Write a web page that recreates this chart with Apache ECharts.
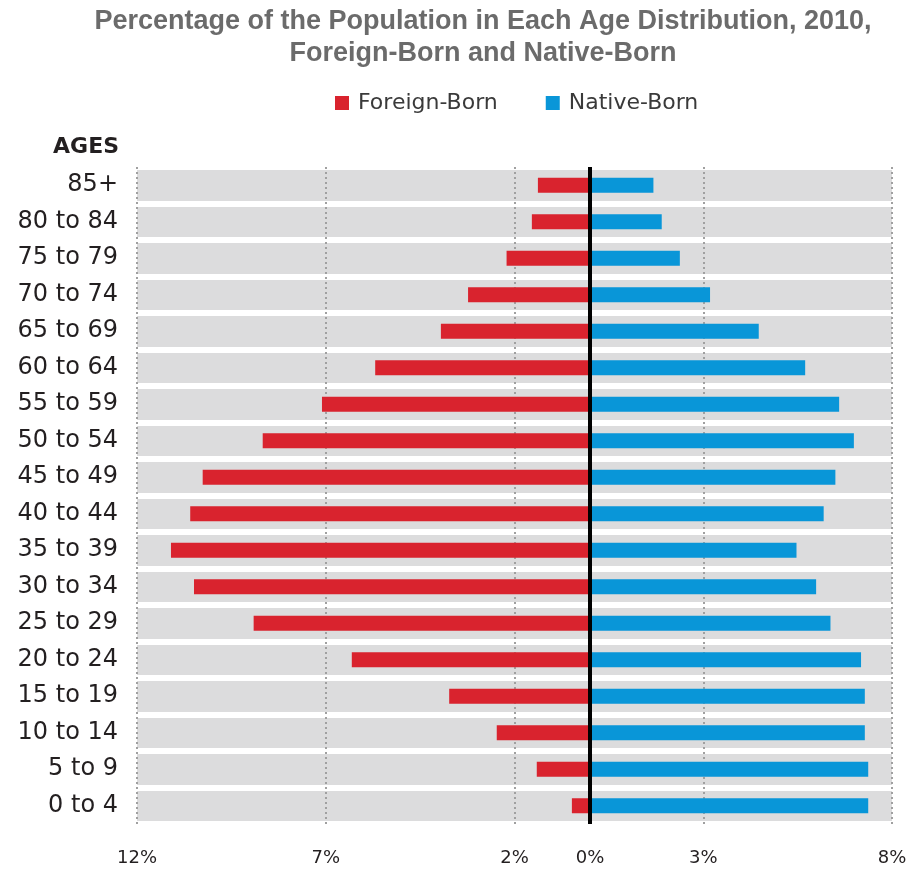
<!DOCTYPE html>
<html>
<head>
<meta charset="utf-8">
<script src="https://cdn.jsdelivr.net/npm/echarts@6/dist/echarts.min.js"></script>
<style>html,body{margin:0;padding:0;background:#fff;}#c{width:921px;height:871px;}</style>
</head>
<body>
<div id="c"></div>
<script>
const categories = ['85+','80 to 84','75 to 79','70 to 74','65 to 69','60 to 64','55 to 59','50 to 54','45 to 49','40 to 44','35 to 39','30 to 34','25 to 29','20 to 24','15 to 19','10 to 14','5 to 9','0 to 4'];
const foreignBorn = [1.38,1.54,2.21,3.23,3.95,5.69,7.10,8.67,10.26,10.59,11.10,10.49,8.91,6.31,3.73,2.47,1.41,0.48];
const nativeBorn = [1.68,1.90,2.38,3.18,4.47,5.70,6.60,6.99,6.50,6.19,5.47,5.99,6.37,7.18,7.28,7.28,7.37,7.37];
const xTickLabels = [-12,-7,-2,0,3,8];

const FONT = 'DejaVu Sans';
const chart = echarts.init(document.getElementById('c'), null, {renderer:'canvas'});
chart.setOption({
  animation: false,
  backgroundColor: '#ffffff',
  title: [
    {
      text: 'Percentage of the Population in Each Age Distribution, 2010,\nForeign-Born and Native-Born',
      left: 478, top: 1, textAlign: 'center',
      textStyle: {fontFamily: 'Liberation Sans', fontWeight: 'bold', fontSize: 27, lineHeight: 32, color: '#6b6b6b'}
    },
    {
      text: 'AGES', left: 114, top: 131, textAlign: 'right',
      textStyle: {fontFamily: FONT, fontWeight: 'bold', fontSize: 22, color: '#231f20'}
    }
  ],
  legend: {
    left: 330, top: 87, itemWidth: 14, itemHeight: 14, itemGap: 48,
    icon: 'rect',
    textStyle: {fontFamily: FONT, fontSize: 22, color: '#3a3a3a', padding: [0,0,0,4]},
    data: ['Foreign-Born','Native-Born']
  },
  grid: {left: 137, right: 29, top: 167, bottom: 47, containLabel: false},
  xAxis: {
    type: 'value', min: -12, max: 8, interval: 5, z: 1,
    axisLine: {show: false}, axisTick: {show: false},
    axisLabel: {
      customValues: xTickLabels,
      formatter: v => Math.abs(v) + '%',
      fontFamily: FONT, fontSize: 18, color: '#231f20', margin: 25
    },
    splitLine: {show: true, lineStyle: {color: '#a0a0a0', width: 2, type: [2,3]}}
  },
  yAxis: {
    type: 'category', data: categories, inverse: true, z: 0,
    axisLine: {show: false}, axisTick: {show: false},
    axisLabel: {fontFamily: FONT, fontSize: 24, color: '#231f20', margin: 19},
    splitArea: {show: true, areaStyle: {color: ['#dcdcdd','#dcdcdd']}},
    splitLine: {show: true, lineStyle: {color: '#ffffff', width: 6}}
  },
  series: [
    {
      name: 'Foreign-Born', type: 'bar', barWidth: 15, barGap: '-100%',
      itemStyle: {color: '#d9232e'},
      data: foreignBorn.map(v => -v)
    },
    {
      name: 'Native-Born', type: 'bar', barWidth: 15, barGap: '-100%',
      itemStyle: {color: '#0996d8'},
      data: nativeBorn,
      markLine: {
        silent: true, symbol: 'none', label: {show: false},
        lineStyle: {color: '#000000', width: 4, type: 'solid'},
        data: [{xAxis: 0}]
      }
    }
  ]
});
</script>
</body>
</html>
